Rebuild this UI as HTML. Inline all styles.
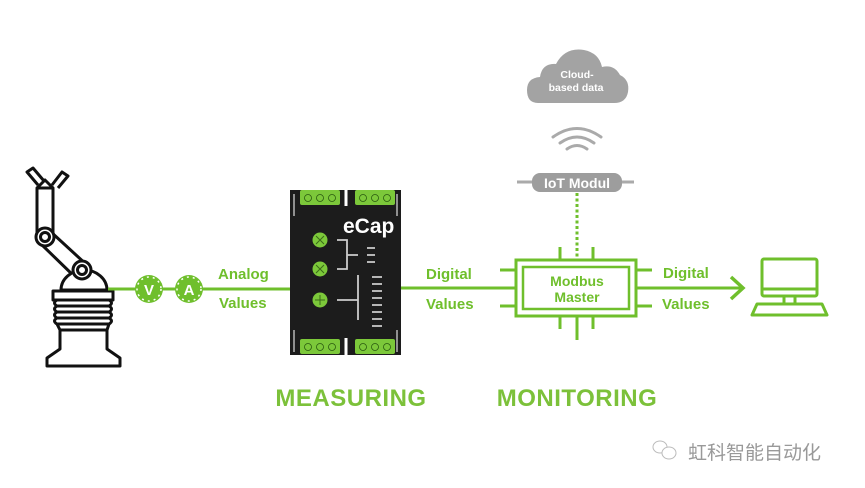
<!DOCTYPE html>
<html><head><meta charset="utf-8"><style>
html,body{margin:0;padding:0;background:#fff;}
body{width:865px;height:488px;overflow:hidden;position:relative;font-family:"Liberation Sans",sans-serif;}
</style></head><body>
<svg width="865" height="488" viewBox="0 0 865 488" xmlns="http://www.w3.org/2000/svg" style="position:absolute;left:0;top:0">
<g fill="none" stroke="#111" stroke-width="3" stroke-linejoin="round">
  <!-- gripper -->
  <path d="M38 185 L27 172 L33 168 L44 181"/>
  <path d="M52 185 L62 172 L68 176 L58 188"/>
  <path d="M37 188 L45 180 L53 188"/>
  <!-- upper arm -->
  <rect x="37" y="188" width="16" height="50"/>
  <!-- lower arm -->
  <path d="M41 244 L76 278 M51 232 L88 266"/>
  <circle cx="45" cy="237" r="9" fill="#fff"/>
  <circle cx="45" cy="237" r="4.5"/>
  <path d="M61 290 A23 20 0 0 1 107 290 Z" fill="#fff"/>
  <circle cx="82" cy="270" r="9" fill="#fff"/>
  <circle cx="82" cy="270" r="4.5"/>
  <rect x="53" y="291" width="60" height="9" fill="#fff"/>
  <path d="M57 300 L109 300 M55 306 L111 306 M57 312 L109 312 M55 318 L111 318 M57 324 L109 324"/>
  <path d="M57 300 Q52 303 57 306 Q52 309 57 312 Q52 315 57 318 Q52 321 57 324 L60 330 L60 349 L47 358 L47 366 L120 366 L120 358 L107 349 L107 330 L109 324 Q114 321 109 318 Q114 315 109 312 Q114 309 109 306 Q114 303 109 300"/>
  <path d="M60 330 L107 330"/>
</g>
<!-- main line left -->
<line x1="108" y1="289" x2="292" y2="289" stroke="#6fbf2c" stroke-width="3"/>
<g fill="#6fbf2c">
  <circle cx="149" cy="289" r="14"/>
  <circle cx="189" cy="289" r="14"/>
</g>
<g fill="none" stroke="#fff" stroke-width="1.5" stroke-dasharray="2 4">
  <circle cx="149" cy="289" r="12"/><circle cx="189" cy="289" r="12"/>
</g>
<text x="149" y="295" font-size="15" font-weight="bold" fill="#fff" text-anchor="middle">V</text>
<text x="189" y="295" font-size="15" font-weight="bold" fill="#fff" text-anchor="middle">A</text>
<g font-size="15" font-weight="bold" fill="#6fbf2c" font-family="Liberation Sans, sans-serif">
  <text x="218" y="279">Analog</text>
  <text x="219" y="308">Values</text>
  <text x="426" y="279">Digital</text>
  <text x="426" y="309">Values</text>
  <text x="663" y="278">Digital</text>
  <text x="662" y="309">Values</text>
</g>
<!-- eCap module -->
<rect x="290" y="190" width="111" height="165" fill="#1c1c1c"/>
<line x1="294" y1="194" x2="294" y2="216" stroke="#ddd" stroke-width="1.2"/>
<line x1="294" y1="330" x2="294" y2="352" stroke="#ddd" stroke-width="1.2"/>
<line x1="397" y1="194" x2="397" y2="216" stroke="#ddd" stroke-width="1.2"/>
<line x1="397" y1="330" x2="397" y2="352" stroke="#ddd" stroke-width="1.2"/>
<line x1="346" y1="190" x2="346" y2="206" stroke="#fff" stroke-width="3"/>
<line x1="346" y1="338" x2="346" y2="355" stroke="#fff" stroke-width="3"/>
<g fill="#7cc83a">
  <rect x="300" y="190" width="40" height="15" rx="2"/>
  <rect x="355" y="190" width="40" height="15" rx="2"/>
  <rect x="300" y="339" width="40" height="15" rx="2"/>
  <rect x="355" y="339" width="40" height="15" rx="2"/>
</g>
<g fill="none" stroke="#2a5a10" stroke-width="0.8">
  <circle cx="308" cy="198" r="3.5"/><circle cx="320" cy="198" r="3.5"/><circle cx="332" cy="198" r="3.5"/>
  <circle cx="363" cy="198" r="3.5"/><circle cx="375" cy="198" r="3.5"/><circle cx="387" cy="198" r="3.5"/>
  <circle cx="308" cy="347" r="3.5"/><circle cx="320" cy="347" r="3.5"/><circle cx="332" cy="347" r="3.5"/>
  <circle cx="363" cy="347" r="3.5"/><circle cx="375" cy="347" r="3.5"/><circle cx="387" cy="347" r="3.5"/>
</g>
<text x="343" y="233" font-size="21" font-weight="bold" fill="#fff">eCap</text>
<g fill="#7cc83a">
  <circle cx="320" cy="240" r="7.5"/><circle cx="320" cy="269" r="7.5"/><circle cx="320" cy="300" r="7.5"/>
</g>
<g stroke="#3a6a18" stroke-width="1">
  <path d="M316 236 L324 244 M324 236 L316 244"/>
  <path d="M316 265 L324 273 M324 265 L316 273"/>
  <path d="M315 300 L325 300 M320 295 L320 305"/>
</g>
<g stroke="#ccc" stroke-width="1.8" fill="none">
  <path d="M337 240 L347 240 L347 269 L337 269 M347 255 L358 255"/>
  <path d="M337 300 L358 300 M358 275 L358 320"/>
  <path d="M367 248 L375 248 M367 255 L375 255 M367 262 L375 262"/>
  <path d="M372 277 L382 277 M372 284 L382 284 M372 291 L382 291 M372 298 L382 298 M372 305 L382 305 M372 312 L382 312 M372 319 L382 319 M372 326 L382 326"/>
</g>
<!-- line eCap to Modbus -->
<line x1="401" y1="288" x2="517" y2="288" stroke="#6fbf2c" stroke-width="3"/>
<!-- modbus -->
<g stroke="#6fbf2c" stroke-width="3" fill="none">
  <rect x="516" y="260" width="120" height="56"/>
  <rect x="523" y="267" width="106" height="42" stroke-width="2.5"/>
  <path d="M560 247 L560 260 M593 247 L593 260 M560 316 L560 329 M593 316 L593 329 M577 316 L577 340"/>
  <path d="M500 270 L516 270 M500 306 L516 306 M636 270 L652 270 M636 306 L652 306"/>
  <path d="M636 288 L742 288"/>
  <path d="M731 277 L743 288 L731 299" stroke-width="3.5"/>
  <path d="M577 193 L577 258" stroke-dasharray="3 2.5"/>
</g>
<text x="577" y="286" font-size="14" font-weight="bold" fill="#6fbf2c" text-anchor="middle">Modbus</text>
<text x="577" y="302" font-size="14" font-weight="bold" fill="#6fbf2c" text-anchor="middle">Master</text>
<!-- computer -->
<g stroke="#6fbf2c" stroke-width="3" fill="none" stroke-linejoin="round">
  <rect x="762" y="259" width="55" height="37" rx="2"/>
  <path d="M762 289 L817 289 M784 296 L784 303 M795 296 L795 303"/>
  <path d="M757 304 L822 304 L827 315 L752 315 Z"/>
</g>
<!-- IoT -->
<line x1="517" y1="182" x2="634" y2="182" stroke="#aaa" stroke-width="3"/>
<rect x="532" y="173" width="90" height="19" rx="8" fill="#9d9d9d"/>
<text x="577" y="188" font-size="14" font-weight="bold" fill="#fff" text-anchor="middle">IoT Modul</text>
<!-- wifi -->
<g stroke="#aaa" stroke-width="3" fill="none" stroke-linecap="round">
  <path d="M553 137 Q577 120 601 137"/>
  <path d="M560 143 Q577 131 594 143"/>
  <path d="M567 149 Q577 142 587 149"/>
</g>
<!-- cloud -->
<path d="M538 103 Q527 103 527 90 Q527 78 540 77 Q542 63 556 64 Q565 47 584 50 Q599 53 602 67 Q614 64 620 75 Q630 80 628 92 Q626 103 614 103 Z" fill="#a3a3a3"/>
<text x="577" y="78" font-size="10.5" font-weight="bold" fill="#fff" text-anchor="middle">Cloud-</text>
<text x="576" y="91" font-size="10.5" font-weight="bold" fill="#fff" text-anchor="middle">based data</text>
<!-- titles -->
<text x="351" y="406" font-size="24" font-weight="bold" fill="#7cc13a" text-anchor="middle" letter-spacing="0.5">MEASURING</text>
<text x="577" y="406" font-size="24" font-weight="bold" fill="#7cc13a" text-anchor="middle" letter-spacing="0.5">MONITORING</text>
<!-- watermark -->
<g fill="none" stroke="#bbb" stroke-width="1">
  <ellipse cx="660" cy="447" rx="7" ry="6"/>
  <ellipse cx="669" cy="453" rx="7" ry="6" fill="#fff"/>
</g>
<text x="688" y="459" font-size="19" fill="#999" font-family="Liberation Sans, Noto Sans CJK SC, sans-serif">虹科智能自动化</text>
</svg>
</body></html>
